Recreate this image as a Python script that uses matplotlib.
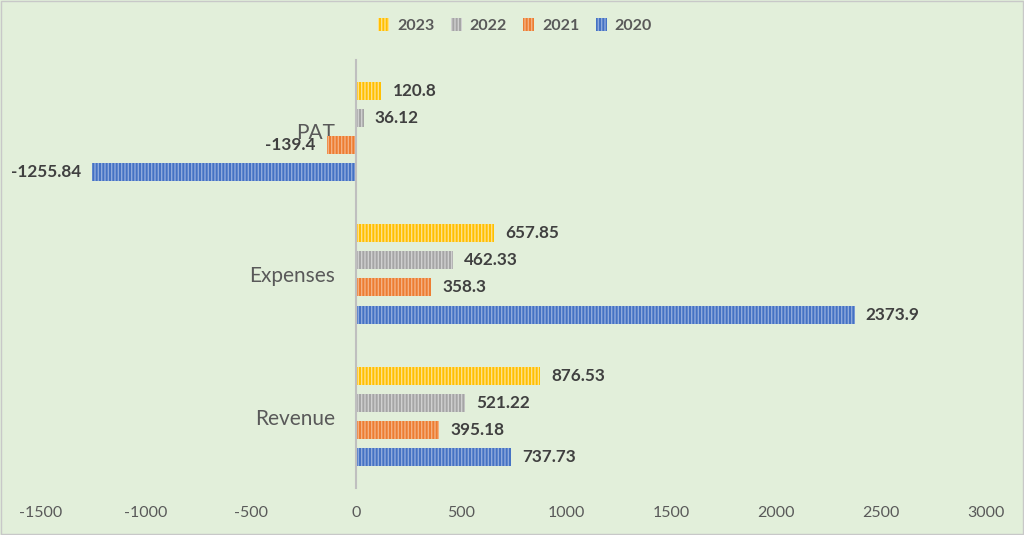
import matplotlib
matplotlib.use("Agg")
import matplotlib.pyplot as plt
import numpy as np

categories = ["Revenue", "Expenses", "PAT"]
years = ["2020", "2021", "2022", "2023"]
values_2020 = [737.73, 2373.9, -1255.84]
values_2021 = [395.18, 358.3, -139.4]
values_2022 = [521.22, 462.33, 36.12]
values_2023 = [876.53, 657.85, 120.8]
series = [values_2020, values_2021, values_2022, values_2023]
labels_2020 = ["737.73", "2373.9", "-1255.84"]
labels_2021 = ["395.18", "358.3", "-139.4"]
labels_2022 = ["521.22", "462.33", "36.12"]
labels_2023 = ["876.53", "657.85", "120.8"]
series_labels = [labels_2020, labels_2021, labels_2022, labels_2023]
xticks = [-1500, -1000, -500, 0, 500, 1000, 1500, 2000, 2500, 3000]

colors = ["#4472C4", "#ED7D31", "#A5A5A5", "#FFC000"]
hatch_colors = ["#8FAADC", "#F4B183", "#D0D0D0", "#FFE08A"]

plt.rcParams['font.family'] = ['Lato', 'DejaVu Sans']
plt.rcParams['hatch.linewidth'] = 1.0

bg = "#E2EFDA"
fig = plt.figure(figsize=(10.24, 5.35), dpi=100, facecolor=bg)
ax = fig.add_axes([0.040, 0.088, 0.923, 0.800])
ax.set_facecolor(bg)

y = np.arange(len(categories))
bh = 0.126
step = 0.19
handles = []
for i, (vals, labs) in enumerate(zip(series, series_labels)):
    off = (i - 1.5) * step
    bars = ax.barh(y + off, vals, height=bh, color=colors[i],
                   edgecolor=hatch_colors[i], linewidth=0, hatch='|||||', zorder=2)
    handles.append(bars)
    for yy, v, lab in zip(y + off, vals, labs):
        if v >= 0:
            ax.annotate(lab, (v, yy), xytext=(8, 0), textcoords='offset points',
                        ha='left', va='center', fontsize=12.3, fontweight='bold',
                        color='#404040')
        else:
            ax.annotate(lab, (v, yy), xytext=(-8, 0), textcoords='offset points',
                        ha='right', va='center', fontsize=12.3, fontweight='bold',
                        color='#404040')

ax.set_xlim(-1500, 3000)
ax.set_ylim(-0.5, 2.5)
ax.set_xticks(xticks)
ax.set_xticklabels([str(t) for t in xticks])
ax.set_yticks(y)
ax.set_yticklabels(categories)
ax.spines['left'].set_position(('data', 0))
ax.spines['left'].set_color('#BFBFBF')
ax.spines['left'].set_linewidth(1.5)
ax.spines['left'].set_zorder(3)
for s in ['top', 'right', 'bottom']:
    ax.spines[s].set_visible(False)
ax.tick_params(axis='y', length=0, pad=15, labelsize=15, labelcolor='#595959')
ax.tick_params(axis='x', length=0, pad=13, labelsize=11.5, labelcolor='#595959')
for t in ax.get_yticklabels():
    t.set_zorder(5)

leg = fig.legend(handles[::-1], years[::-1], loc='center', bbox_to_anchor=(0.503, 0.952),
                 ncol=4, frameon=False, handlelength=0.7, handleheight=0.9,
                 handletextpad=0.5, columnspacing=1.0,
                 prop={'size': 11.5, 'weight': 'bold'})
for t in leg.get_texts():
    t.set_color('#595959')

border = plt.Rectangle((0.001, 0.001), 0.998, 0.997, transform=fig.transFigure,
                       fill=False, edgecolor='#C8C8C8', linewidth=1)
fig.patches.append(border)

fig.savefig("out.png", dpi=100, facecolor=bg)
